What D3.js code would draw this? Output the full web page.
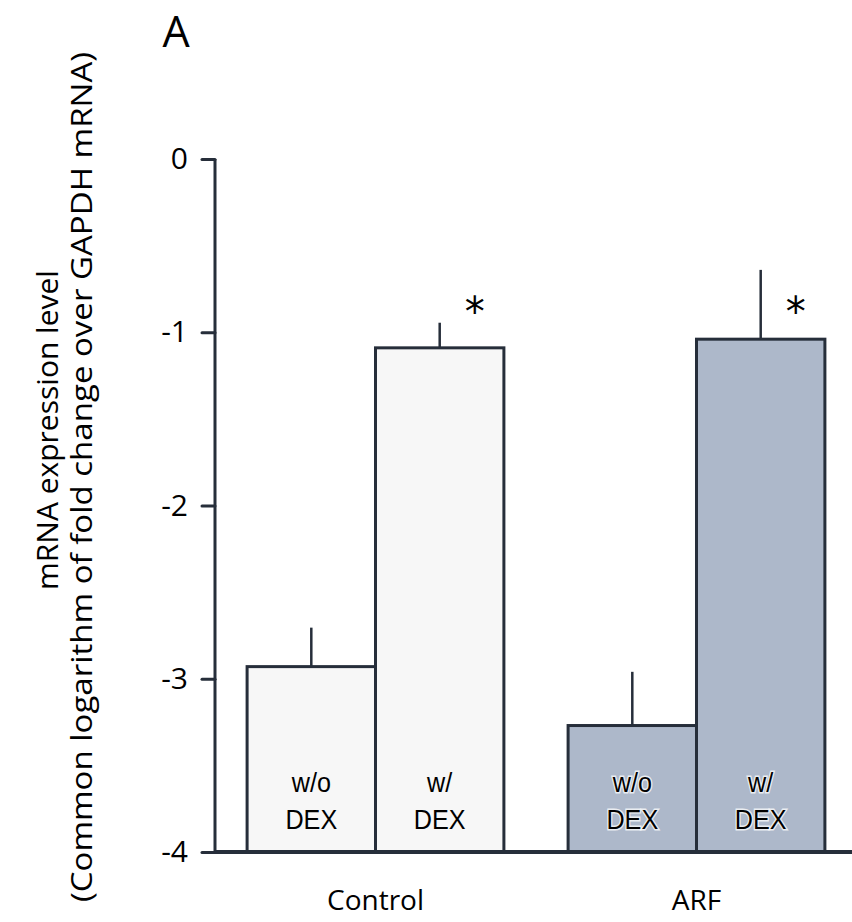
<!DOCTYPE html>
<html>
<head>
<meta charset="utf-8">
<script src="https://cdnjs.cloudflare.com/ajax/libs/d3/7.8.5/d3.min.js"></script>
<style>
  body { margin: 0; background: #fff; }
  svg text { font-family: "Open Sans", "DejaVu Sans", sans-serif; }
</style>
</head>
<body>
<div id="chart"></div>
<script>
// data
const groups = ["Control", "ARF"];
const treatments = ["w/o", "w/"];
const means = [[-2.93, -1.09], [-3.27, -1.04]];
const errors = [[0.225, 0.145], [0.31, 0.40]];
const stars = [[false, true], [false, true]];
const yTicks = [0, -1, -2, -3, -4];

const width = 852, height = 922;
const ink = "#262e3a";
const fills = ["#f7f7f7", "#adb8ca"];

const svg = d3.select("#chart").append("svg")
  .attr("width", width).attr("height", height);

const y = d3.scaleLinear().domain([-4, 0]).range([852, 159]);
const x0 = d3.scaleBand().domain(groups).range([215, 857])
  .paddingInner(0.2).paddingOuter(0.1);
const x1 = d3.scaleBand().domain(treatments).range([0, x0.bandwidth()]);

// panel letter
svg.append("text").attr("x", 176).attr("y", 47)
  .attr("text-anchor", "middle").style("font-size", "43px").text("A");

// bars
groups.forEach((g, gi) => {
  const gEl = svg.append("g").attr("transform", `translate(${x0(g)},0)`);
  treatments.forEach((t, ti) => {
    const v = means[gi][ti], e = errors[gi][ti];
    const bx = x1(t), bw = x1.bandwidth();
    // error bar (upper only)
    gEl.append("line")
      .attr("x1", bx + bw / 2).attr("x2", bx + bw / 2)
      .attr("y1", y(v)).attr("y2", y(v + e))
      .attr("stroke", ink).attr("stroke-width", 2.5);
    gEl.append("rect")
      .attr("x", bx).attr("width", bw)
      .attr("y", y(v)).attr("height", y(-4) - y(v))
      .attr("fill", fills[gi]).attr("stroke", ink).attr("stroke-width", 3);
    const lab = gEl.append("text")
      .attr("text-anchor", "middle")
      .style("font-family", "'Liberation Sans', Arial, sans-serif")
      .style("font-size", "28px")
      .attr("transform", `translate(${bx + bw / 2},0) scale(0.9,1)`);
    if (gi === 1) {
      lab.attr("stroke", "#ffffff").attr("stroke-width", 3)
        .attr("stroke-opacity", 0.75).attr("paint-order", "stroke");
    }
    lab.append("tspan").attr("x", 0).attr("y", 792).text(t);
    lab.append("tspan").attr("x", 0).attr("y", 829).text("DEX");
    if (stars[gi][ti]) {
      gEl.append("text")
        .attr("x", bx + bw / 2 + 35).attr("y", 326)
        .attr("text-anchor", "middle")
        .style("font-family", "'DejaVu Sans', sans-serif")
        .style("font-size", "40px")
        .text("*");
    }
  });
});

// y axis
const yAxis = svg.append("g").attr("transform", "translate(215,0)")
  .call(d3.axisLeft(y).tickValues(yTicks).tickSize(13).tickPadding(14)
    .tickFormat(d => String(d)));
yAxis.select(".domain").attr("stroke", ink).attr("stroke-width", 3)
  .attr("d", `M0,${y(0)}V${y(-4)}`);
yAxis.selectAll(".tick line").attr("stroke", ink).attr("stroke-width", 3)
  .attr("stroke-linecap", "round");
yAxis.selectAll(".tick text").style("font-size", "30px").attr("fill", "#000")
  .style("font-family", "'Open Sans', sans-serif");

// x axis baseline
svg.append("line").attr("x1", 215).attr("x2", width)
  .attr("y1", y(-4)).attr("y2", y(-4))
  .attr("stroke", ink).attr("stroke-width", 4);

// group labels
svg.selectAll(".glab").data(groups).enter().append("text")
  .attr("class", "glab")
  .attr("x", d => x0(d) + x0.bandwidth() / 2).attr("y", 910)
  .attr("text-anchor", "middle")
  .style("font-family", "'Open Sans', sans-serif")
  .style("font-size", "28px")
  .text(d => d);

// y axis title
const yt = svg.append("text")
  .attr("transform", "rotate(-90)")
  .attr("text-anchor", "middle")
  .style("font-family", "'Open Sans', sans-serif")
  .style("font-size", "30px");
yt.append("tspan").attr("x", -430).attr("y", 58)
  .text("mRNA expression level");
yt.append("tspan").attr("x", -477).attr("y", 92)
  .attr("textLength", 850).attr("lengthAdjust", "spacingAndGlyphs")
  .text("(Common logarithm of fold change over GAPDH mRNA)");
</script>
</body>
</html>
